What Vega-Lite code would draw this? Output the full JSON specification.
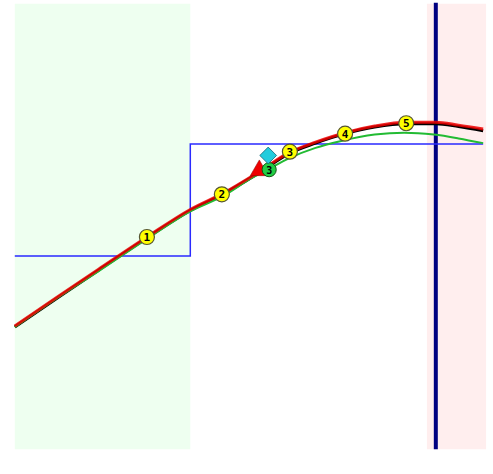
{
  "$schema": "https://vega.github.io/schema/vega-lite/v6.json",
  "width": 493,
  "height": 474,
  "padding": 0,
  "autosize": {"type": "none"},
  "background": "white",
  "config": {"view": {"stroke": null}},
  "datasets": {
    "zones": [
      {"x0": 15, "x1": 193, "y0": 4, "y1": 474, "zone": "green"},
      {"x0": 433, "x1": 493, "y0": 4, "y1": 474, "zone": "pink"}
    ],
    "limit": [{"x": 442, "y0": 3, "y1": 474}],
    "step": [
      {"x": 15, "y": 270, "o": 1},
      {"x": 193, "y": 270, "o": 2},
      {"x": 193, "y": 152, "o": 3},
      {"x": 490, "y": 152, "o": 4}
    ],
    "red": [
      {"x": 15, "y": 344}, {"x": 60, "y": 312}, {"x": 100, "y": 284}, {"x": 149, "y": 250},
      {"x": 193, "y": 221}, {"x": 226, "y": 204}, {"x": 263, "y": 181}, {"x": 293, "y": 161},
      {"x": 320, "y": 150}, {"x": 350, "y": 140}, {"x": 380, "y": 133}, {"x": 412, "y": 129},
      {"x": 442, "y": 129}, {"x": 465, "y": 132}, {"x": 490, "y": 136}
    ],
    "black": [
      {"x": 15, "y": 345}, {"x": 60, "y": 313}, {"x": 100, "y": 285}, {"x": 149, "y": 251},
      {"x": 193, "y": 222}, {"x": 226, "y": 205}, {"x": 263, "y": 182}, {"x": 293, "y": 162},
      {"x": 320, "y": 151}, {"x": 350, "y": 141}, {"x": 380, "y": 134}, {"x": 412, "y": 130.5},
      {"x": 442, "y": 130.5}, {"x": 465, "y": 133.5}, {"x": 490, "y": 138}
    ],
    "green": [
      {"x": 15, "y": 345}, {"x": 60, "y": 313}, {"x": 100, "y": 286}, {"x": 149, "y": 252},
      {"x": 193, "y": 223}, {"x": 226, "y": 207}, {"x": 255, "y": 188}, {"x": 273, "y": 178},
      {"x": 293, "y": 167}, {"x": 320, "y": 156}, {"x": 345, "y": 149}, {"x": 380, "y": 142},
      {"x": 410, "y": 140}, {"x": 440, "y": 142}, {"x": 465, "y": 146}, {"x": 490, "y": 151}
    ],
    "labels": [
      {"x": 149, "y": 250, "n": "1"},
      {"x": 225, "y": 205, "n": "2"},
      {"x": 294, "y": 160, "n": "3"},
      {"x": 350, "y": 141, "n": "4"},
      {"x": 412, "y": 130, "n": "5"}
    ],
    "tri": [{"x": 263, "y": 177}],
    "gc": [{"x": 273, "y": 179, "n": "3"}],
    "dia": [{"x": 272, "y": 164}]
  },
  "layer": [
    {
      "data": {"name": "zones"},
      "mark": {"type": "rect"},
      "encoding": {
        "x": {"field": "x0", "type": "quantitative", "scale": {"domain": [0, 493]}, "axis": null},
        "x2": {"field": "x1"},
        "y": {"field": "y0", "type": "quantitative", "scale": {"domain": [0, 474], "reverse": true}, "axis": null},
        "y2": {"field": "y1"},
        "color": {"field": "zone", "type": "nominal", "scale": {"domain": ["green", "pink"], "range": ["#eefff0", "#ffeeee"]}, "legend": null}
      }
    },
    {
      "data": {"name": "limit"},
      "mark": {"type": "rule", "color": "#000080", "strokeWidth": 4},
      "encoding": {
        "x": {"field": "x", "type": "quantitative"},
        "y": {"field": "y0", "type": "quantitative"},
        "y2": {"field": "y1"}
      }
    },
    {
      "data": {"name": "step"},
      "mark": {"type": "line", "color": "#2a2aff", "strokeWidth": 1.5},
      "encoding": {
        "x": {"field": "x", "type": "quantitative"},
        "y": {"field": "y", "type": "quantitative"},
        "order": {"field": "o"}
      }
    },
    {
      "data": {"name": "black"},
      "mark": {"type": "line", "color": "#000000", "strokeWidth": 3, "interpolate": "monotone"},
      "encoding": {
        "x": {"field": "x", "type": "quantitative"},
        "y": {"field": "y", "type": "quantitative"}
      }
    },
    {
      "data": {"name": "green"},
      "mark": {"type": "line", "color": "#22bb33", "strokeWidth": 2, "interpolate": "monotone"},
      "encoding": {
        "x": {"field": "x", "type": "quantitative"},
        "y": {"field": "y", "type": "quantitative"}
      }
    },
    {
      "data": {"name": "red"},
      "mark": {"type": "line", "color": "#ee0000", "strokeWidth": 3, "opacity": 0.85, "interpolate": "monotone"},
      "encoding": {
        "x": {"field": "x", "type": "quantitative"},
        "y": {"field": "y", "type": "quantitative"}
      }
    },
    {
      "data": {"name": "labels"},
      "mark": {"type": "point", "shape": "circle", "filled": true, "fill": "#ffff00", "stroke": "#555533", "strokeWidth": 1.2, "size": 225, "opacity": 1},
      "encoding": {
        "x": {"field": "x", "type": "quantitative"},
        "y": {"field": "y", "type": "quantitative"}
      }
    },
    {
      "data": {"name": "labels"},
      "mark": {"type": "text", "font": "DejaVu Sans Mono", "fontSize": 11, "fontWeight": "bold", "color": "#000000", "baseline": "middle", "align": "center", "dy": 1},
      "encoding": {
        "x": {"field": "x", "type": "quantitative"},
        "y": {"field": "y", "type": "quantitative"},
        "text": {"field": "n"}
      }
    },
    {
      "data": {"name": "tri"},
      "mark": {"type": "point", "shape": "triangle-up", "filled": true, "fill": "#ee0000", "stroke": "#880000", "strokeWidth": 0.5, "size": 330, "opacity": 1},
      "encoding": {
        "x": {"field": "x", "type": "quantitative"},
        "y": {"field": "y", "type": "quantitative"}
      }
    },
    {
      "data": {"name": "gc"},
      "mark": {"type": "point", "shape": "circle", "filled": true, "fill": "#22cc44", "stroke": "#115511", "strokeWidth": 1, "size": 200, "opacity": 1},
      "encoding": {
        "x": {"field": "x", "type": "quantitative"},
        "y": {"field": "y", "type": "quantitative"}
      }
    },
    {
      "data": {"name": "gc"},
      "mark": {"type": "text", "font": "DejaVu Sans Mono", "fontSize": 10, "fontWeight": "bold", "color": "#000000", "baseline": "middle", "align": "center", "dy": 1},
      "encoding": {
        "x": {"field": "x", "type": "quantitative"},
        "y": {"field": "y", "type": "quantitative"},
        "text": {"field": "n"}
      }
    },
    {
      "data": {"name": "dia"},
      "mark": {"type": "point", "shape": "diamond", "filled": true, "fill": "#22ccdd", "stroke": "#116677", "strokeWidth": 0.8, "size": 280, "opacity": 1},
      "encoding": {
        "x": {"field": "x", "type": "quantitative"},
        "y": {"field": "y", "type": "quantitative"}
      }
    }
  ]
}
